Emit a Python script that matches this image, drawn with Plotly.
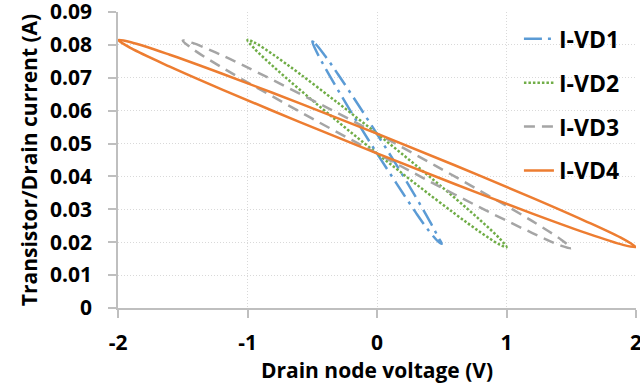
import plotly.graph_objects as go

# Drain node voltage (V) and drain current (A), one closed loop per series
vd1_x = [-0.5, -0.475, -0.4, -0.3, -0.15, 0.0, 0.15, 0.3, 0.4, 0.475, 0.5,
         0.475, 0.4, 0.3, 0.15, 0.0, -0.15, -0.3, -0.4, -0.475, -0.5]
vd1_y = [0.0810, 0.0803, 0.0766, 0.0710, 0.0621, 0.0529, 0.0435, 0.0337, 0.0269, 0.0214, 0.0195,
         0.0201, 0.0235, 0.0290, 0.0379, 0.0470, 0.0564, 0.0662, 0.0730, 0.0786, 0.0810]

vd2_x = [-1.0, -0.95, -0.8, -0.6, -0.3, 0.0, 0.3, 0.6, 0.8, 0.95, 1.0,
         0.95, 0.8, 0.6, 0.3, 0.0, -0.3, -0.6, -0.8, -0.95, -1.0]
vd2_y = [0.0815, 0.0808, 0.0770, 0.0713, 0.0623, 0.0530, 0.0434, 0.0335, 0.0266, 0.0210, 0.0185,
         0.0192, 0.0230, 0.0287, 0.0377, 0.0470, 0.0566, 0.0665, 0.0734, 0.0790, 0.0815]

vd3_x = [-1.5, -1.425, -1.2, -0.9, -0.45, 0.0, 0.45, 0.9, 1.2, 1.425, 1.5,
         1.425, 1.2, 0.9, 0.45, 0.0, -0.45, -0.9, -1.2, -1.425, -1.5]
vd3_y = [0.0813, 0.0806, 0.0769, 0.0712, 0.0622, 0.0530, 0.0433, 0.0333, 0.0264, 0.0207, 0.0182,
         0.0189, 0.0228, 0.0285, 0.0376, 0.0470, 0.0565, 0.0664, 0.0732, 0.0788, 0.0813]

vd4_x = [-2.0, -1.9, -1.6, -1.2, -0.6, 0.0, 0.6, 1.2, 1.6, 1.9, 2.0,
         1.9, 1.6, 1.2, 0.6, 0.0, -0.6, -1.2, -1.6, -1.9, -2.0]
vd4_y = [0.0815, 0.0808, 0.0770, 0.0713, 0.0623, 0.0530, 0.0434, 0.0335, 0.0266, 0.0210, 0.0185,
         0.0192, 0.0230, 0.0287, 0.0377, 0.0470, 0.0566, 0.0665, 0.0734, 0.0790, 0.0815]

series_names = ["I-VD1", "I-VD2", "I-VD3", "I-VD4"]
x_ticks = [-2, -1, 0, 1, 2]
x_tick_labels = ["-2", "-1", "0", "1", "2"]
y_ticks = [0, 0.01, 0.02, 0.03, 0.04, 0.05, 0.06, 0.07, 0.08, 0.09]
y_tick_labels = ["0", "0.01", "0.02", "0.03", "0.04", "0.05", "0.06", "0.07", "0.08", "0.09"]

styles = [
    dict(color="#5B9BD5", dash="18px,6px,3px,6px"),
    dict(color="#70AD47", dash="2.5px,2px"),
    dict(color="#A5A5A5", dash="11px,7px"),
    dict(color="#ED7D31", dash="solid"),
]

data = [(vd1_x, vd1_y), (vd2_x, vd2_y), (vd3_x, vd3_y), (vd4_x, vd4_y)]

fig = go.Figure()
for (xs, ys), name, st in zip(data, series_names, styles):
    fig.add_trace(go.Scatter(
        x=xs, y=ys, name=name, mode="lines", legendgroup=name,
        line=dict(color=st["color"], dash=st["dash"], width=2.5, shape="spline", smoothing=1),
    ))

font = dict(family="Open Sans", size=21, color="black", weight="bold")
legend_font = dict(family="Open Sans", size=23, color="black", weight="bold")

fig.update_layout(
    width=640, height=388,
    margin=dict(l=118, r=4, t=12, b=80),
    plot_bgcolor="white", paper_bgcolor="white",
    font=font,
    showlegend=True,
    legend=dict(
        x=0.774, y=0.982, xanchor="left", yanchor="top",
        bgcolor="rgba(0,0,0,0)", borderwidth=0,
        traceorder="grouped", tracegroupgap=11,
        font=legend_font,
    ),
)

axis_common = dict(
    showline=True, linecolor="#BFBFBF", linewidth=1.5,
    ticks="outside", ticklen=8, tickcolor="#BFBFBF", tickwidth=1.5,
    showgrid=True, gridcolor="#D9D9D9", gridwidth=1, griddash="1px,2px",
    zeroline=False, tickfont=font, automargin=False, ticklabeloverflow="allow",
)

fig.update_xaxes(
    range=[-2, 2], tickvals=x_ticks, ticktext=x_tick_labels, ticklabelstandoff=7,
    title=dict(text="Drain node voltage (V)", font=font, standoff=8),
    **axis_common,
)
fig.update_yaxes(
    range=[0, 0.09], tickvals=y_ticks, ticktext=y_tick_labels, ticklabelstandoff=12,
    title=dict(text="Transistor/Drain current (A)", font=font, standoff=7),
    **axis_common,
)

fig.write_html("out.html", config={"displayModeBar": False},
               post_script="document.body.style.margin='0';")
